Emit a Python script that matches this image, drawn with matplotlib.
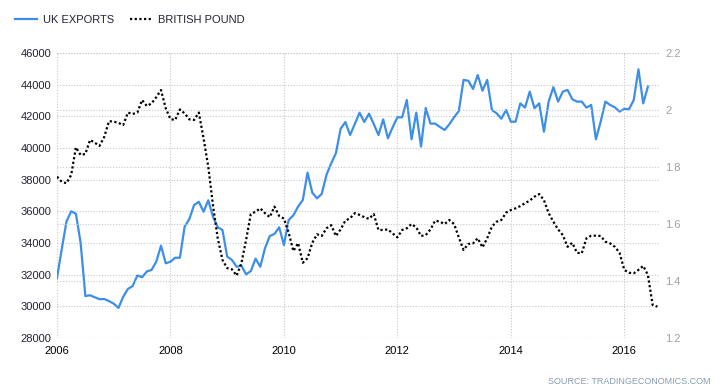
import numpy as np
import matplotlib
matplotlib.use("Agg")
import matplotlib.pyplot as plt
from matplotlib.ticker import FuncFormatter

plt.rcParams['font.family'] = ['Liberation Sans', 'DejaVu Sans']

# monthly UK exports, Jan 2006 - Jun 2016 (GBP million)
exports = [
    31800, 33600, 35350, 36000, 35850, 34000, 30650, 30700, 30570, 30450, 30460, 30330,
    30170, 29900, 30600, 31100, 31280, 31950, 31840, 32200, 32300, 32820, 33830, 32720,
    32820, 33070, 33070, 35030, 35520, 36400, 36600, 35980, 36700, 35650, 35000, 34820,
    33140, 32930, 32500, 32570, 32020, 32230, 33010, 32500, 33670, 34440, 34570, 34990,
    33870, 35450, 35750, 36300, 36720, 38440, 37180, 36820, 37100, 38300, 39030, 39670,
    41220, 41640, 40820, 41520, 42230, 41640, 42170, 41520, 40820, 41810, 40610, 41310,
    41940, 41940, 43030, 40550, 42230, 40090, 42530, 41540, 41540, 41330, 41140, 41500,
    41940, 42340, 44300, 44250, 43730, 44610, 43620, 44300, 42400, 42190, 41850, 42400,
    41660, 41660, 42820, 42550, 43560, 42510, 42820, 41030, 42930, 43840, 42930, 43560,
    43670, 43080, 42930, 42930, 42550, 42720, 40550, 41660, 42930, 42720, 42570, 42300,
    42470, 42450, 43030, 44970, 42820, 43880,
]

# monthly GBP/USD, Jan 2006 - Aug 2016
pound = [
    1.766, 1.748, 1.743, 1.772, 1.869, 1.842, 1.846, 1.895, 1.885, 1.874, 1.906, 1.961,
    1.959, 1.955, 1.947, 1.991, 1.986, 1.991, 2.035, 2.014, 2.023, 2.045, 2.070, 2.006,
    1.968, 1.965, 2.002, 1.988, 1.967, 1.965, 1.991, 1.901, 1.801, 1.665, 1.550, 1.474,
    1.445, 1.441, 1.419, 1.462, 1.544, 1.635, 1.643, 1.655, 1.638, 1.624, 1.661, 1.628,
    1.619, 1.570, 1.505, 1.533, 1.464, 1.480, 1.534, 1.564, 1.558, 1.585, 1.596, 1.558,
    1.581, 1.612, 1.620, 1.638, 1.632, 1.624, 1.618, 1.635, 1.579, 1.579, 1.581, 1.567,
    1.553, 1.579, 1.585, 1.600, 1.588, 1.558, 1.561, 1.581, 1.612, 1.608, 1.600, 1.614,
    1.600, 1.553, 1.509, 1.530, 1.532, 1.550, 1.518, 1.550, 1.591, 1.608, 1.614, 1.640,
    1.649, 1.655, 1.663, 1.673, 1.682, 1.696, 1.705, 1.684, 1.638, 1.608, 1.581, 1.561,
    1.520, 1.534, 1.499, 1.497, 1.550, 1.559, 1.559, 1.558, 1.538, 1.532, 1.520, 1.499,
    1.439, 1.429, 1.427, 1.439, 1.453, 1.421, 1.316, 1.310,
]

year_ticks = [2006, 2008, 2010, 2012, 2014, 2016]
left_ticks = list(range(28000, 46001, 2000))
right_ticks = [1.2, 1.4, 1.6, 1.8, 2.0, 2.2]

t_exp = 2006 + np.arange(len(exports)) / 12
t_gbp = 2006 + np.arange(len(pound)) / 12

fig = plt.figure(figsize=(7.25, 3.89), dpi=100)
ax = fig.add_axes([57/725, 1 - 338/389, (660 - 57)/725, (338 - 53)/389])
ax2 = ax.twinx()

grid_kw = dict(color='#c8c8c8', lw=0.8, ls=(0, (1, 1.5)))
ax.set_xlim(2006, 2006 + (660 - 57.3) / 56.7)
ax.set_ylim(28000, 46000)
ax2.set_ylim(1.2, 2.2)
ax.set_xticks(year_ticks)
ax.set_yticks(left_ticks)
ax2.set_yticks(right_ticks)
ax.grid(True, **grid_kw)
ax2.grid(True, axis='y', **grid_kw)
ax.set_axisbelow(True)
ax2.set_axisbelow(True)

l1, = ax.plot(t_exp, exports, color='#3d8ee9', lw=1.6, label='UK EXPORTS', zorder=3)
l2, = ax2.plot(t_gbp, pound, color='black', lw=1.6, ls=(0, (1, 1.1)),
               label='BRITISH POUND', zorder=3)

for a in (ax, ax2):
    for s in a.spines.values():
        s.set_visible(False)
ax.tick_params(axis='both', length=0, labelsize=8)
ax.tick_params(axis='x', pad=6, labelcolor='black')
ax.tick_params(axis='y', pad=4, labelcolor='#222233')
ax2.tick_params(axis='y', length=0, labelsize=8, pad=4, labelcolor='#a0a0a0')
ax2.yaxis.set_major_formatter(FuncFormatter(lambda v, p: '%g' % round(v, 1)))

fig.legend(handles=[l1, l2], loc='center left', bbox_to_anchor=(15/725, 1 - 20/389),
           ncol=2, frameon=False, fontsize=8, handlelength=2.0, handletextpad=0.55,
           columnspacing=1.4, borderpad=0, borderaxespad=0, labelcolor='#222233')

fig.text(710/725, 1 - 381/389, 'SOURCE: TRADINGECONOMICS.COM', ha='right', va='center',
         fontsize=6.5, color='#8a9ab0')

fig.savefig('out.png', dpi=100)
